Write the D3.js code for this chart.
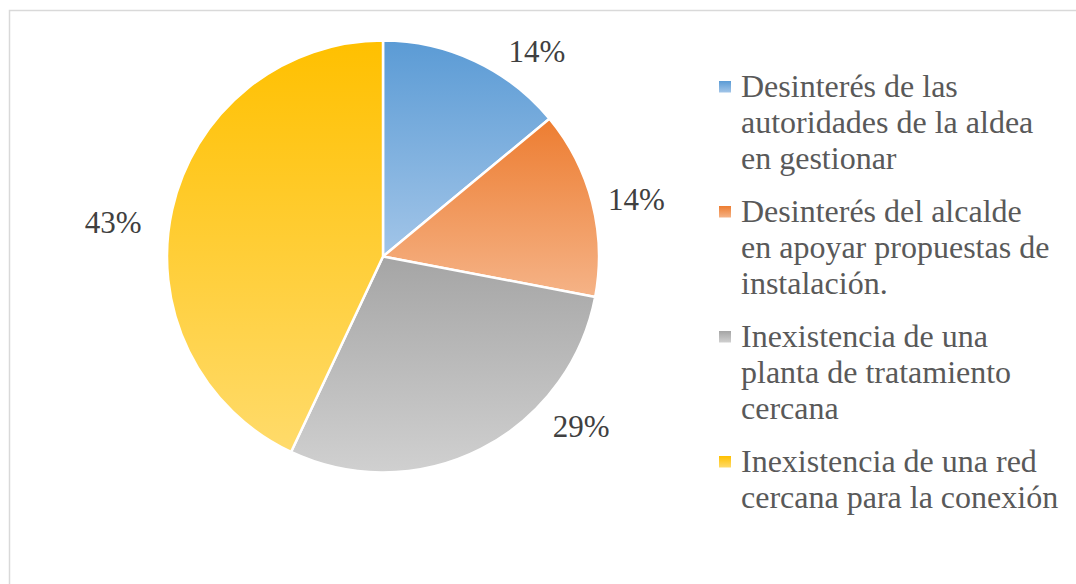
<!DOCTYPE html>
<html>
<head>
<meta charset="utf-8">
<script src="https://cdn.jsdelivr.net/npm/d3@7"></script>
<style>
  html, body { margin: 0; padding: 0; background: #ffffff; }
  svg { display: block; }
</style>
</head>
<body>
<svg id="chart" width="1076" height="584"></svg>
<script>
// Categories and their shares (%)
const categories = [
  ["Desinterés de las", "autoridades de la aldea", "en gestionar"],
  ["Desinterés del alcalde", "en apoyar propuestas de", "instalación."],
  ["Inexistencia de una", "planta de tratamiento", "cercana"],
  ["Inexistencia de una red", "cercana para la conexión"]
];
const values = [14, 14, 29, 43];
const valueLabels = ["14%", "14%", "29%", "43%"];

// Gradient stops per slice: [top, bottom]
const gradients = [
  ["#5b9bd5", "#a2c5e8"],
  ["#ed7d31", "#f5b387"],
  ["#a5a5a5", "#d0d0d0"],
  ["#ffc000", "#ffdb6b"]
];

// Layout
const cx = 383, cy = 256.5, R = 216;
// data label placement (angle in degrees clockwise from top, distance from centre)
const labelAngles = [36.8, 77.2, 130.6, 277.3];
const labelDist = [257, 260, 261, 272];

const svg = d3.select("#chart");

// chart area frame
svg.append("rect")
  .attr("x", 9.5).attr("y", 10.5)
  .attr("width", 1100).attr("height", 600)
  .attr("fill", "none")
  .attr("stroke", "#d9d9d9")
  .attr("stroke-width", 1.5);

const defs = svg.append("defs");
gradients.forEach((g, i) => {
  const lg = defs.append("linearGradient")
    .attr("id", "grad" + i)
    .attr("x1", 0).attr("y1", 0).attr("x2", 0).attr("y2", 1);
  lg.append("stop").attr("offset", "0%").attr("stop-color", g[0]);
  lg.append("stop").attr("offset", "100%").attr("stop-color", g[1]);
});

const pie = d3.pie().sort(null).value(d => d).startAngle(0).endAngle(2 * Math.PI);
const arcs = pie(values);
const arc = d3.arc().innerRadius(0).outerRadius(R);

const g = svg.append("g").attr("transform", `translate(${cx},${cy})`);

g.selectAll("path.slice")
  .data(arcs)
  .join("path")
  .attr("class", "slice")
  .attr("d", arc)
  .attr("fill", (d, i) => `url(#grad${i})`)
  .attr("stroke", "#ffffff")
  .attr("stroke-width", 2.5)
  .attr("stroke-linejoin", "round");

// data labels
const toRad = Math.PI / 180;
g.selectAll("text.lbl")
  .data(arcs)
  .join("text")
  .attr("class", "lbl")
  .attr("x", (d, i) => {
    const a = labelAngles[i] * toRad;
    return d3.arc().innerRadius(labelDist[i]).outerRadius(labelDist[i]).centroid({startAngle: a, endAngle: a})[0];
  })
  .attr("y", (d, i) => {
    const a = labelAngles[i] * toRad;
    return d3.arc().innerRadius(labelDist[i]).outerRadius(labelDist[i]).centroid({startAngle: a, endAngle: a})[1];
  })
  .attr("dy", "0.35em")
  .attr("text-anchor", "middle")
  .attr("font-family", "'Liberation Serif', 'Times New Roman', serif")
  .attr("font-size", 31)
  .attr("fill", "#404040")
  .text((d, i) => valueLabels[i]);

// legend
const legendX = 719, textX = 741;
const firstBaseline = 97, lineH = 36, itemGap = 17;
let baseline = firstBaseline;
const legend = svg.append("g");
categories.forEach((lines, i) => {
  const item = legend.append("g");
  item.append("rect")
    .attr("x", legendX).attr("y", baseline - 16)
    .attr("width", 12).attr("height", 11.5)
    .attr("fill", `url(#grad${i})`);
  const t = item.append("text")
    .attr("font-family", "'Liberation Serif', 'Times New Roman', serif")
    .attr("font-size", 32)
    .attr("fill", "#595959");
  lines.forEach((ln, j) => {
    t.append("tspan").attr("x", textX).attr("y", baseline + j * lineH).text(ln);
  });
  baseline += lines.length * lineH + itemGap;
});
</script>
</body>
</html>
